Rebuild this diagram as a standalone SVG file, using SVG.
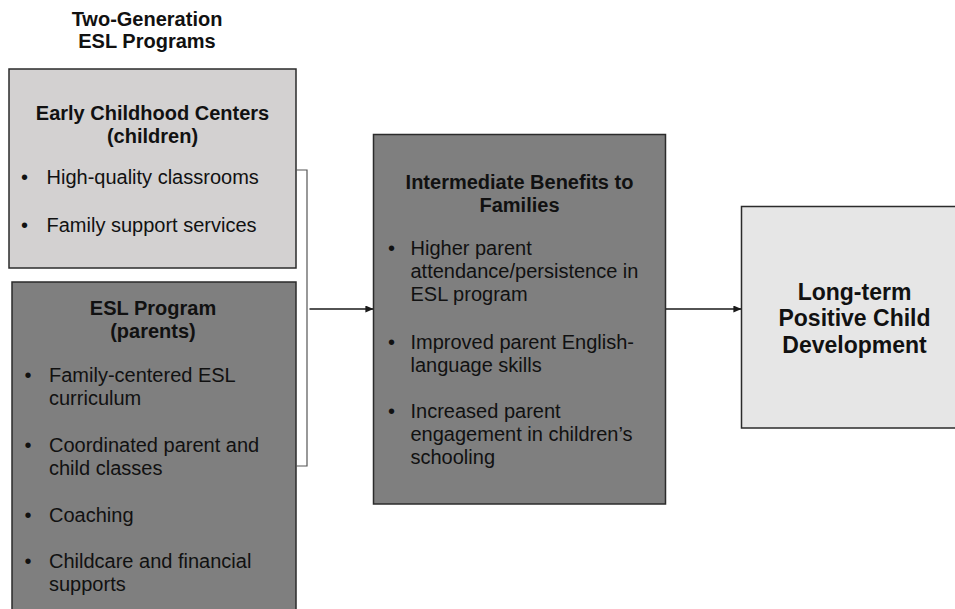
<svg xmlns="http://www.w3.org/2000/svg" width="955" height="609" viewBox="0 0 955 609">
  <defs>
    <style>
      .box { stroke: #2b2b2b; stroke-width: 1.5; }
      .light { fill: #d3d1d1; }
      .mid { fill: #7f7f7f; }
      .pale { fill: #e6e6e6; }
      text { font-family: "Liberation Sans", Arial, sans-serif; fill: #111111; }
      .title { font-size: 20px; font-weight: bold; text-anchor: middle; }
      .big { font-size: 23px; font-weight: bold; text-anchor: middle; }
      .item { font-size: 20px; }
      .wire { fill: none; stroke: #1a1a1a; stroke-width: 1.3; }
      .bracket { fill: none; stroke: #555555; stroke-width: 1.2; }
    </style>
    <marker id="arrow" viewBox="0 0 10 10" refX="9.5" refY="5" markerWidth="8" markerHeight="7" markerUnits="userSpaceOnUse" orient="auto" preserveAspectRatio="none">
      <path d="M0,0 L10,5 L0,10 z" fill="#1a1a1a"/>
    </marker>
  </defs>

  <!-- column heading -->
  <g id="heading">
    <text class="title" x="147" y="26">Two-Generation</text>
    <text class="title" x="147" y="48">ESL Programs</text>
  </g>

  <!-- children's component -->
  <g id="early-childhood">
    <rect class="box light" x="9" y="69" width="287" height="199"/>
    <text class="title" x="152.5" y="120">Early Childhood Centers</text>
    <text class="title" x="152.5" y="143">(children)</text>
    <text class="item" x="21" y="184">•</text>
    <text class="item" x="46.5" y="184">High-quality classrooms</text>
    <text class="item" x="21" y="232">•</text>
    <text class="item" x="46.5" y="232">Family support services</text>
  </g>

  <!-- parents' component -->
  <g id="esl-program">
    <rect class="box mid" x="12" y="282" width="284" height="340"/>
    <text class="title" x="153" y="315">ESL Program</text>
    <text class="title" x="153" y="338">(parents)</text>
    <text class="item" x="24.5" y="382">•</text>
    <text class="item" x="49" y="382">Family-centered ESL</text>
    <text class="item" x="49" y="405">curriculum</text>
    <text class="item" x="24.5" y="452">•</text>
    <text class="item" x="49" y="452">Coordinated parent and</text>
    <text class="item" x="49" y="475">child classes</text>
    <text class="item" x="24.5" y="522">•</text>
    <text class="item" x="49" y="522">Coaching</text>
    <text class="item" x="24.5" y="567.5">•</text>
    <text class="item" x="49" y="567.5">Childcare and financial</text>
    <text class="item" x="49" y="590.5">supports</text>
  </g>

  <!-- intermediate outcomes -->
  <g id="intermediate-benefits">
    <rect class="box mid" x="373.5" y="134.5" width="292" height="369.5"/>
    <text class="title" x="519.5" y="188.5">Intermediate Benefits to</text>
    <text class="title" x="519.5" y="211.5">Families</text>
    <text class="item" x="388" y="255">•</text>
    <text class="item" x="410.5" y="255">Higher parent</text>
    <text class="item" x="410.5" y="278">attendance/persistence in</text>
    <text class="item" x="410.5" y="301">ESL program</text>
    <text class="item" x="388" y="348.5">•</text>
    <text class="item" x="410.5" y="348.5">Improved parent English-</text>
    <text class="item" x="410.5" y="371.5">language skills</text>
    <text class="item" x="388" y="417.5">•</text>
    <text class="item" x="410.5" y="417.5">Increased parent</text>
    <text class="item" x="410.5" y="440.5">engagement in children’s</text>
    <text class="item" x="410.5" y="463.5">schooling</text>
  </g>

  <!-- final outcome -->
  <g id="long-term">
    <rect class="box pale" x="741.5" y="206.5" width="230" height="221.5"/>
    <text class="big" x="854.5" y="300">Long-term</text>
    <text class="big" x="854.5" y="326.3">Positive Child</text>
    <text class="big" x="854.5" y="352.6">Development</text>
  </g>

  <!-- connectors -->
  <g id="connectors">
    <polyline class="bracket" points="296,170 307,170 307,466 296,466"/>
    <line class="wire" x1="309.5" y1="309" x2="373" y2="309" marker-end="url(#arrow)"/>
    <line class="wire" x1="666" y1="309" x2="741" y2="309" marker-end="url(#arrow)"/>
  </g>
</svg>
